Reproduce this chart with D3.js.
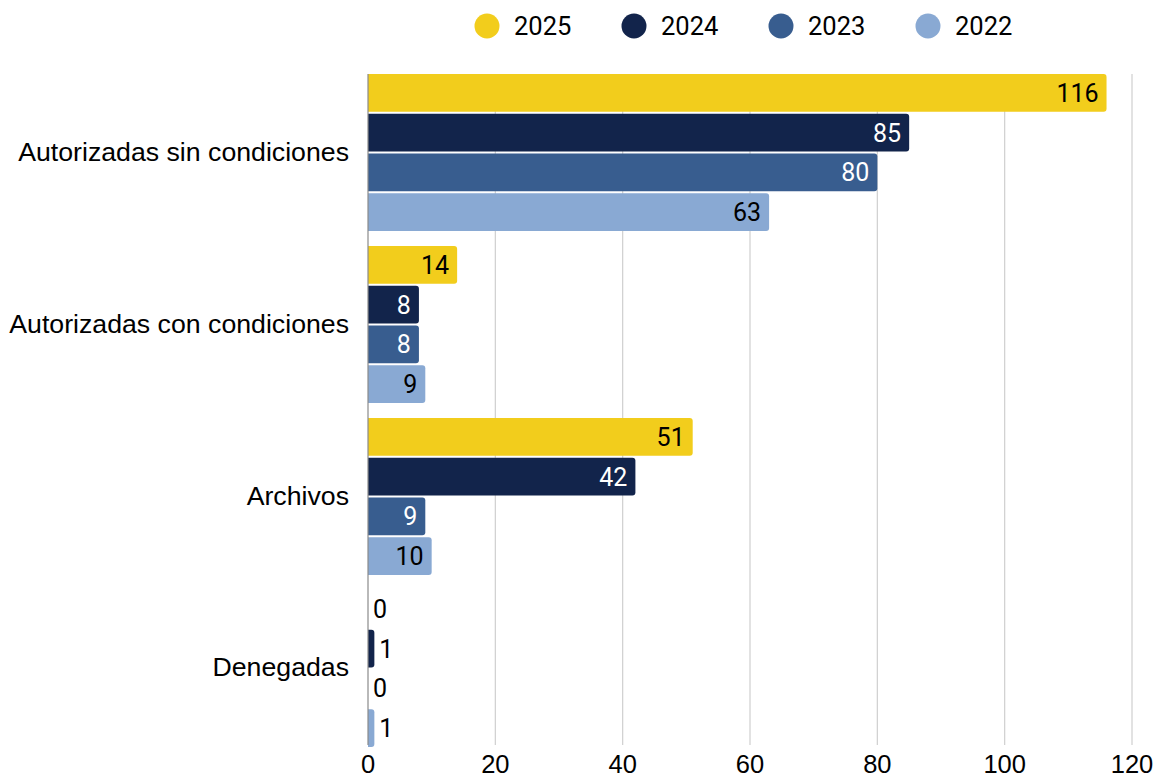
<!DOCTYPE html>
<html>
<head>
<meta charset="utf-8">
<script src="https://cdn.jsdelivr.net/npm/d3@7"></script>
<style>
  html, body { margin: 0; padding: 0; background: #fff; }
  svg { display: block; }
</style>
</head>
<body>
<svg id="chart" width="1158" height="778"></svg>
<script>
const categories = ["Autorizadas sin condiciones", "Autorizadas con condiciones", "Archivos", "Denegadas"];
const years = ["2025", "2024", "2023", "2022"];
const values2025 = [116, 14, 51, 0];
const values2024 = [85, 8, 42, 1];
const values2023 = [80, 8, 9, 0];
const values2022 = [63, 9, 10, 1];
const xTicks = [0, 20, 40, 60, 80, 100, 120];
const colors = ["#F2CD1C", "#12244B", "#385D8F", "#89A9D3"];
const labelColors = ["#000000", "#ffffff", "#ffffff", "#000000"];

const seriesValues = [values2025, values2024, values2023, values2022];
const rows = [];
categories.forEach((c, ci) => {
  years.forEach((y, yi) => {
    rows.push({ cat: c, year: y, yi: yi, value: seriesValues[yi][ci] });
  });
});

const svg = d3.select("#chart");
const plotLeft = 368, plotRight = 1132, plotTop = 74, plotBottom = 747;

const x = d3.scaleLinear().domain([0, 120]).range([plotLeft, plotRight]);
const y0 = d3.scaleBand().domain(categories).range([plotTop, plotBottom]).paddingInner(0.087).paddingOuter(0);
const y1 = d3.scaleBand().domain(years).range([0, y0.bandwidth()]).paddingInner(0.05).paddingOuter(0);

// grid
svg.append("g").selectAll("line").data(xTicks.filter(d => d !== 0)).join("line")
  .attr("x1", d => x(d)).attr("x2", d => x(d))
  .attr("y1", plotTop).attr("y2", 745)
  .attr("stroke", "#cfcfcf").attr("stroke-width", 1.2);

// bars with rounded right corners
function barPath(x0, yTop, w, h, r) {
  if (w <= 0) return "";
  r = Math.min(r, w, h / 2);
  return `M${x0},${yTop}H${x0 + w - r}Q${x0 + w},${yTop} ${x0 + w},${yTop + r}V${yTop + h - r}Q${x0 + w},${yTop + h} ${x0 + w - r},${yTop + h}H${x0}Z`;
}

const g = svg.append("g");
g.selectAll("path.bar").data(rows).join("path")
  .attr("class", "bar")
  .attr("fill", d => colors[d.yi])
  .attr("d", d => barPath(x(0), y0(d.cat) + y1(d.year), x(d.value) - x(0), y1.bandwidth(), 3));

// zero axis line
svg.append("line")
  .attr("x1", x(0)).attr("x2", x(0))
  .attr("y1", plotTop).attr("y2", 745)
  .attr("stroke", "#8a8a8a").attr("stroke-width", 1.2);

// value labels
g.selectAll("text.val").data(rows).join("text")
  .attr("class", "val")
  .attr("font-family", "Roboto, 'Liberation Sans', sans-serif")
  .attr("font-size", 25)
  .attr("dy", "0.36em")
  .attr("y", d => y0(d.cat) + y1(d.year) + y1.bandwidth() / 2)
  .each(function(d) {
    const w = x(d.value) - x(0);
    const sel = d3.select(this);
    if (w > 30) {
      sel.attr("x", x(d.value) - 8).attr("text-anchor", "end").attr("fill", labelColors[d.yi]);
    } else {
      sel.attr("x", x(d.value) + 5).attr("text-anchor", "start").attr("fill", "#000");
    }
  })
  .text(d => d.value);

// category labels
svg.append("g").selectAll("text").data(categories).join("text")
  .attr("x", 349)
  .attr("y", d => y0(d) + y0.bandwidth() / 2)
  .attr("dy", "0.3em")
  .attr("text-anchor", "end")
  .attr("font-family", "'Liberation Sans', Arial, sans-serif")
  .attr("font-size", 26.7)
  .attr("fill", "#000")
  .text(d => d);

// x tick labels
svg.append("g").selectAll("text").data(xTicks).join("text")
  .attr("x", d => x(d))
  .attr("y", 773)
  .attr("text-anchor", "middle")
  .attr("font-family", "'Liberation Sans', Arial, sans-serif")
  .attr("font-size", 25.5)
  .attr("fill", "#000")
  .text(d => d);

// legend
const legend = svg.append("g");
const lx = d3.scalePoint().domain(years).range([487, 928]);
years.forEach((yr, i) => {
  legend.append("circle").attr("cx", lx(yr)).attr("cy", 26).attr("r", 12.5).attr("fill", colors[i]);
  legend.append("text").attr("x", lx(yr) + 27).attr("y", 26).attr("dy", "0.36em")
    .attr("font-family", "Roboto, 'Liberation Sans', sans-serif")
    .attr("font-size", 25.5).attr("fill", "#000").text(yr);
});
</script>
</body>
</html>
